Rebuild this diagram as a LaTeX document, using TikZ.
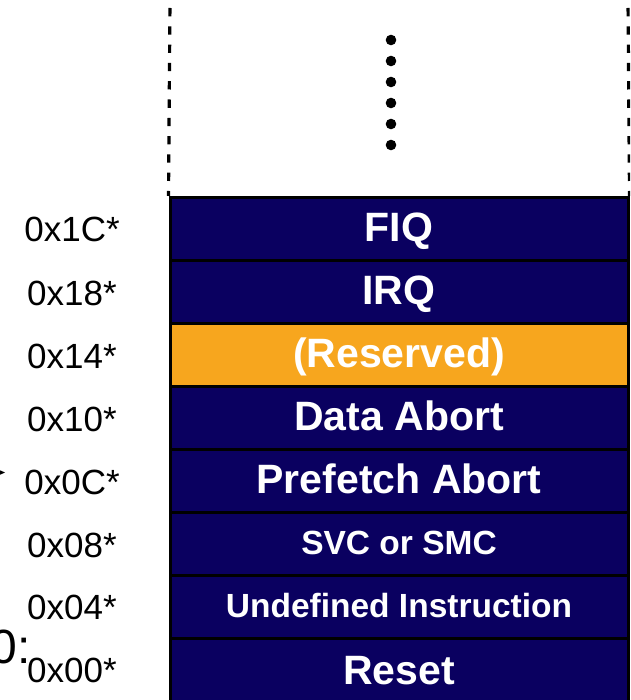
\documentclass[tikz,border=0pt]{standalone}
\usepackage{fontspec}
\setmainfont{Liberation Sans}
\definecolor{vecnavy}{RGB}{10,0,96}
\definecolor{vecorange}{RGB}{247,166,30}

\begin{document}
\begin{tikzpicture}[x=1pt,y=-1pt,
  vecrow/.style={draw=black, line width=3pt, fill=vecnavy, text=white,
    minimum width=458pt, minimum height=63pt, inner sep=0pt, anchor=north,
    font=\bfseries\fontsize{41}{41}\selectfont, text height=25.8pt, text depth=0pt},
  smallrow/.style={vecrow, font=\bfseries\fontsize{33.5}{33.5}\selectfont,
    text height=21.5pt},
  addr/.style={inner sep=0pt, font=\fontsize{35}{35}\selectfont,
    text height=25pt, text depth=0pt},
  openedge/.style={line width=3.2pt, dash pattern=on 8.3pt off 10pt, dash phase=10.3pt}
]
\path[use as bounding box, clip] (0,0) rectangle (630,700);

% vector table rows, top to bottom
\node[vecrow] (fiq) at (399,196) {FIQ};
\node[vecrow] (irq) at (399,259) {IRQ};
\node[vecrow, fill=vecorange] (rsv) at (399,322) {(Reserved)};
\node[vecrow] (dab) at (399,385) {Data Abort};
\node[vecrow] (pab) at (399,448) {Prefetch Abort};
\node[smallrow] (svc) at (399,511) {SVC or SMC};
\node[smallrow] (und) at (399,574) {Undefined Instruction};
\node[vecrow, minimum height=66pt] (rst) at (399,637) {Reset};

% offsets
\node[addr] (o1c) at (72,229.5) {0x1C*};
\node[addr] (o18) at (72,292.5) {0x18*};
\node[addr] (o14) at (72,355.5) {0x14*};
\node[addr] (o10) at (72,418.5) {0x10*};
\node[addr] (o0c) at (72,481.5) {0x0C*};
\node[addr] (o08) at (72,544.5) {0x08*};
\node[addr] (o04) at (72,607) {0x04*};
\node[addr] (o00) at (72,669.5) {0x00*};

% open upper part of the table
\coordinate (tl) at (170,0);
\coordinate (tr) at (628,0);
\draw[openedge] (tl) -- (fiq.north west);
\draw[openedge] (tr) -- (fiq.north east);
\foreach \yy in {40,61,82,103,124,145}
  \fill (391,\yy) circle (5.3pt);

% pieces of neighbouring content at the left edge
\fill (-4,468.5) -- (5,472.5) -- (-4,476.5) -- cycle;
\node[anchor=base east, inner sep=0pt, font=\fontsize{48}{48}\selectfont] (frag) at (31,663) {0:};
\end{tikzpicture}
\end{document}
